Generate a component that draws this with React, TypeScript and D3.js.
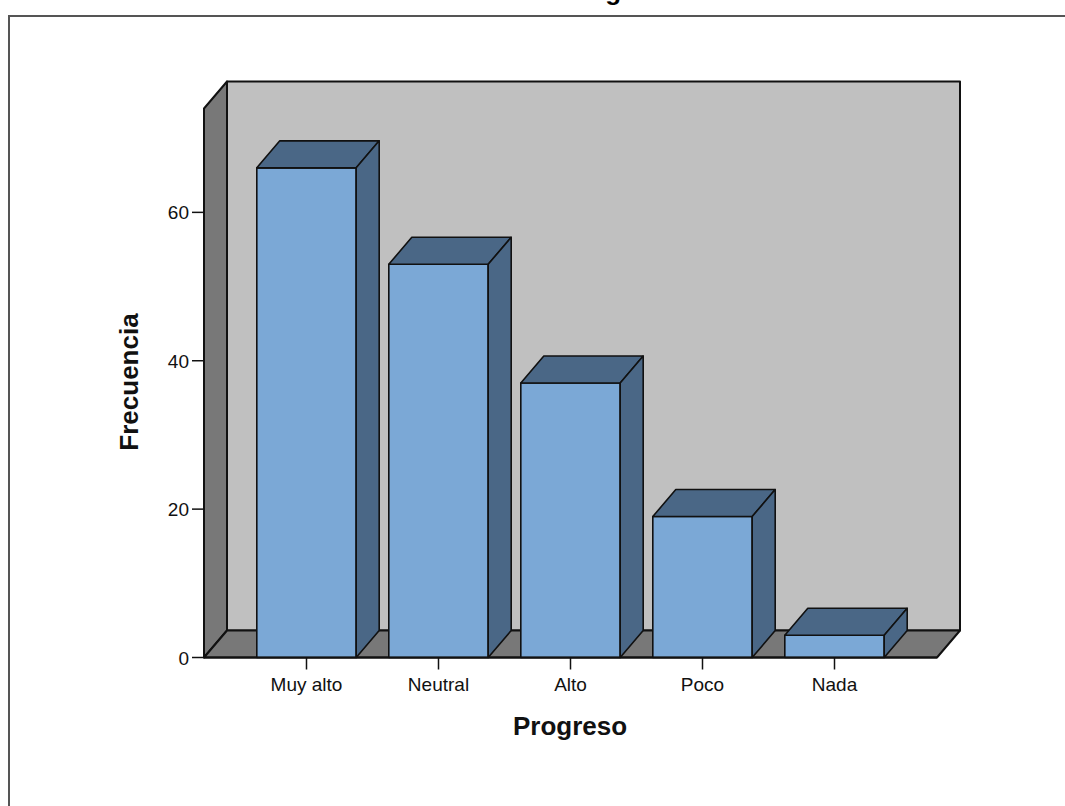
import React from "react";
import * as d3 from "d3";

const categories = ["Muy alto", "Neutral", "Alto", "Poco", "Nada"];
const frequencies = [66, 53, 37, 19, 3];
const yTicks = [0, 20, 40, 60];
const title = "Progreso";
const xTitle = "Progreso";
const yTitle = "Frecuencia";

const W = 1065;
const H = 806;
const DX = 23;
const DY = 27;
const FONT = "'Liberation Sans', Arial, sans-serif";

export default function App() {
  const x = d3.scaleBand<string>().domain(categories).range([204, 937]).paddingInner(0.247).paddingOuter(0.4);
  const y = d3.scaleLinear().domain([0, 74]).range([657.5, 108.5]);
  const x0 = 204, x1 = 937;
  const yb = y(0), yt = y(74);
  const pts = (a: number[][]) => a.map((p) => p.join(",")).join(" ");

  return (
    <svg width={W} height={H} style={{ position: "absolute", left: 0, top: 0 }}>
      <rect x={0} y={0} width={W} height={H} fill="#fff" />
      <rect x={9} y={16} width={W + 20} height={H + 20} fill="none" stroke="#555" strokeWidth={2} />
      <text x={619} y={-0.5} textAnchor="middle" fontFamily={FONT} fontWeight="bold" fontSize={26}>{title}</text>
      {/* back wall */}
      <polygon points={pts([[x0 + DX, yt - DY], [x1 + DX, yt - DY], [x1 + DX, yb - DY], [x0 + DX, yb - DY]])} fill="#c0c0c0" stroke="#111" strokeWidth={2} strokeLinejoin="round" />
      {/* left wall */}
      <polygon points={pts([[x0, yt], [x0 + DX, yt - DY], [x0 + DX, yb - DY], [x0, yb]])} fill="#787878" stroke="#111" strokeWidth={2} strokeLinejoin="round" />
      {/* floor */}
      <polygon points={pts([[x0, yb], [x0 + DX, yb - DY], [x1 + DX, yb - DY], [x1, yb]])} fill="#787878" stroke="#111" strokeWidth={2} strokeLinejoin="round" />
      {/* bars */}
      {categories.map((c, i) => {
        const bx = x(c)!;
        const bw = x.bandwidth();
        const top = y(frequencies[i]);
        return (
          <g key={c} stroke="#111" strokeWidth={1.6} strokeLinejoin="round">
            <rect x={bx} y={top} width={bw} height={yb - top} fill="#7ba8d6" />
            <polygon points={pts([[bx, top], [bx + DX, top - DY], [bx + bw + DX, top - DY], [bx + bw, top]])} fill="#4a6786" />
            <polygon points={pts([[bx + bw, top], [bx + bw + DX, top - DY], [bx + bw + DX, yb - DY], [bx + bw, yb]])} fill="#4a6786" />
          </g>
        );
      })}
      {/* axes lines */}
      <line x1={x0} y1={yt} x2={x0} y2={yb} stroke="#111" strokeWidth={2} />
      <line x1={x0} y1={yb} x2={x1} y2={yb} stroke="#111" strokeWidth={2} />
      {/* y ticks */}
      {yTicks.map((t) => (
        <g key={t}>
          <line x1={192} x2={x0} y1={y(t)} y2={y(t)} stroke="#111" strokeWidth={1.5} />
          <text x={189} y={y(t) + 7} textAnchor="end" fontFamily={FONT} fontSize={19} fill="#111">{t}</text>
        </g>
      ))}
      {/* x ticks */}
      {categories.map((c) => {
        const cx = x(c)! + x.bandwidth() / 2;
        return (
          <g key={c}>
            <line x1={cx} x2={cx} y1={yb} y2={yb + 12} stroke="#111" strokeWidth={1.5} />
            <text x={cx} y={691} textAnchor="middle" fontFamily={FONT} fontSize={19} fill="#111">{c}</text>
          </g>
        );
      })}
      <text x={570} y={735} textAnchor="middle" fontFamily={FONT} fontWeight="bold" fontSize={26} fill="#111">{xTitle}</text>
      <text transform={`translate(138,382) rotate(-90)`} textAnchor="middle" fontFamily={FONT} fontWeight="bold" fontSize={26} fill="#111">{yTitle}</text>
    </svg>
  );
}
